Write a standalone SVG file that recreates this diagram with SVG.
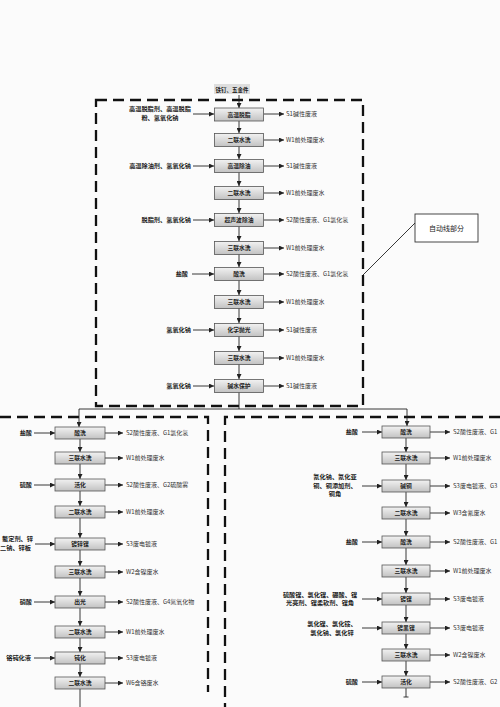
<svg xmlns="http://www.w3.org/2000/svg" width="500" height="707" viewBox="0 0 500 707">
<defs>
<linearGradient id="g" x1="0" y1="0" x2="0" y2="1">
<stop offset="0" stop-color="#f2f2f2"/><stop offset="1" stop-color="#c2c2c2"/>
</linearGradient>
<marker id="ah" viewBox="0 0 6 6" refX="6" refY="3" markerWidth="5" markerHeight="5" markerUnits="userSpaceOnUse" orient="auto">
<path d="M0,0 L6,3 L0,6 Z" fill="#222"/>
</marker>
<style>
.bx{fill:url(#g);stroke:#555;stroke-width:0.8}
.bl{font-family:"Noto Sans CJK SC",sans-serif;font-size:5.8px;font-weight:bold;fill:#222;text-anchor:middle}
.in{font-family:"Noto Sans CJK SC",sans-serif;font-size:6.2px;font-weight:bold;fill:#222}
.out{font-family:"Noto Sans CJK SC",sans-serif;font-size:6px;fill:#333}
.ln{stroke:#222;stroke-width:0.9;fill:none}
.ar{stroke:#222;stroke-width:0.9;fill:none;marker-end:url(#ah)}
.ds{stroke:#111;stroke-width:2.3;fill:none;stroke-dasharray:11 6}
</style>
</defs>
<rect width="500" height="707" fill="#fbfbfb"/>

<g id="boundaries">
<rect class="ds" x="96" y="100" width="267" height="306"/>
<path class="ds" d="M0,417 H208 V692"/>
<path class="ds" d="M500,417 H225 V707"/>
</g>

<g id="callout">
<rect x="415" y="214" width="63" height="28" fill="#fff" stroke="#333" stroke-width="0.9"/>
<text x="446.5" y="231" class="in" style="font-weight:normal;font-size:7px" text-anchor="middle">自动线部分</text>
</g>

<g id="connectors">
<path class="ar" d="M239,95 V108"/>
<path class="ar" d="M239,121 V133"/>
<path class="ar" d="M239,146 V159"/>
<path class="ar" d="M239,172 V186"/>
<path class="ar" d="M239,199 V213"/>
<path class="ar" d="M239,226 V241"/>
<path class="ar" d="M239,254 V267"/>
<path class="ar" d="M239,280 V295"/>
<path class="ar" d="M239,308 V323"/>
<path class="ar" d="M239,336 V351"/>
<path class="ar" d="M239,364 V379"/>
<path class="ln" d="M239,392 V409 M79,409 H407"/>
<path class="ar" d="M79,409 V427"/>
<path class="ar" d="M407,409 V426"/>
<path class="ln" d="M363,275 L415,223"/>
<!-- top inputs -->
<path class="ar" d="M193,114 H214"/>
<path class="ar" d="M193,166 H214"/>
<path class="ar" d="M193,220 H214"/>
<path class="ar" d="M192,274 H214"/>
<path class="ar" d="M193,330 H214"/>
<path class="ar" d="M193,386 H214"/>
<!-- top outputs -->
<path class="ar" d="M264,114 H284"/>
<path class="ar" d="M264,140 H284"/>
<path class="ar" d="M264,166 H284"/>
<path class="ar" d="M264,193 H284"/>
<path class="ar" d="M264,220 H284"/>
<path class="ar" d="M264,248 H284"/>
<path class="ar" d="M264,274 H284"/>
<path class="ar" d="M264,302 H284"/>
<path class="ar" d="M264,330 H284"/>
<path class="ar" d="M264,358 H284"/>
<path class="ar" d="M264,386 H284"/>
<!-- left column vertical -->
<path class="ar" d="M80,439 V452"/>
<path class="ar" d="M80,464 V479"/>
<path class="ar" d="M80,491 V506"/>
<path class="ar" d="M80,518 V538"/>
<path class="ar" d="M80,550 V566"/>
<path class="ar" d="M80,578 V596"/>
<path class="ar" d="M80,608 V626"/>
<path class="ar" d="M80,638 V652"/>
<path class="ar" d="M80,664 V677"/>
<path class="ln" d="M80,689 V707"/>
<!-- left inputs -->
<path class="ar" d="M34,433 H55"/>
<path class="ar" d="M34,485 H55"/>
<path class="ar" d="M35,544 H55"/>
<path class="ar" d="M34,602 H55"/>
<path class="ar" d="M34,658 H55"/>
<!-- left outputs -->
<path class="ar" d="M105,433 H123"/>
<path class="ar" d="M105,458 H123"/>
<path class="ar" d="M105,485 H123"/>
<path class="ar" d="M105,512 H123"/>
<path class="ar" d="M105,544 H123"/>
<path class="ar" d="M105,572 H123"/>
<path class="ar" d="M105,602 H123"/>
<path class="ar" d="M105,632 H123"/>
<path class="ar" d="M105,658 H123"/>
<path class="ar" d="M105,683 H123"/>
<!-- right column vertical -->
<path class="ar" d="M406,438 V452"/>
<path class="ar" d="M406,464 V480"/>
<path class="ar" d="M406,492 V507"/>
<path class="ar" d="M406,519 V536"/>
<path class="ar" d="M406,548 V565"/>
<path class="ar" d="M406,577 V593"/>
<path class="ar" d="M406,605 V622"/>
<path class="ar" d="M406,634 V649"/>
<path class="ar" d="M406,661 V676"/>
<path class="ln" d="M406,688 V697 M403.5,697 H408.5"/>
<!-- right inputs -->
<path class="ar" d="M362,432 H382"/>
<path class="ar" d="M362,486 H382"/>
<path class="ar" d="M362,542 H382"/>
<path class="ar" d="M362,599 H382"/>
<path class="ar" d="M362,628 H382"/>
<path class="ar" d="M362,682 H382"/>
<!-- right outputs -->
<path class="ar" d="M430,432 H450"/>
<path class="ar" d="M430,458 H450"/>
<path class="ar" d="M430,486 H450"/>
<path class="ar" d="M430,513 H450"/>
<path class="ar" d="M430,542 H450"/>
<path class="ar" d="M430,571 H450"/>
<path class="ar" d="M430,599 H450"/>
<path class="ar" d="M430,628 H450"/>
<path class="ar" d="M430,655 H450"/>
<path class="ar" d="M430,682 H450"/>
</g>

<g id="source">
<rect x="214" y="84" width="36" height="10" fill="#dedede"/>
<text x="232" y="91.5" class="bl" style="font-size:5.5px">铁钉、五金件</text>
</g>

<g id="top-nodes">
<g id="t1"><rect class="bx" x="214.5" y="108" width="49" height="13"/><text class="bl" x="239" y="116.5">高温脱脂</text></g>
<g id="t2"><rect class="bx" x="214.5" y="133.5" width="49" height="13"/><text class="bl" x="239" y="142">二联水洗</text></g>
<g id="t3"><rect class="bx" x="214.5" y="159.5" width="49" height="13"/><text class="bl" x="239" y="168">高温除油</text></g>
<g id="t4"><rect class="bx" x="214.5" y="186.5" width="49" height="13"/><text class="bl" x="239" y="195">二联水洗</text></g>
<g id="t5"><rect class="bx" x="214.5" y="213.5" width="49" height="13"/><text class="bl" x="239" y="222">超声波除油</text></g>
<g id="t6"><rect class="bx" x="214.5" y="241.5" width="49" height="13"/><text class="bl" x="239" y="250">三联水洗</text></g>
<g id="t7"><rect class="bx" x="214.5" y="267.5" width="49" height="13"/><text class="bl" x="239" y="276">酸洗</text></g>
<g id="t8"><rect class="bx" x="214.5" y="295.5" width="49" height="13"/><text class="bl" x="239" y="304">三联水洗</text></g>
<g id="t9"><rect class="bx" x="214.5" y="323.5" width="49" height="13"/><text class="bl" x="239" y="332">化学抛光</text></g>
<g id="t10"><rect class="bx" x="214.5" y="351.5" width="49" height="13"/><text class="bl" x="239" y="360">三联水洗</text></g>
<g id="t11"><rect class="bx" x="214.5" y="379.5" width="49" height="13"/><text class="bl" x="239" y="388">碱水保护</text></g>
</g>

<g id="left-nodes">
<g id="l1"><rect class="bx" x="55" y="427" width="50" height="12"/><text class="bl" x="80" y="435">酸洗</text></g>
<g id="l2"><rect class="bx" x="55" y="452" width="50" height="12"/><text class="bl" x="80" y="460">三联水洗</text></g>
<g id="l3"><rect class="bx" x="55" y="479" width="50" height="12"/><text class="bl" x="80" y="487">活化</text></g>
<g id="l4"><rect class="bx" x="55" y="506" width="50" height="12"/><text class="bl" x="80" y="514">二联水洗</text></g>
<g id="l5"><rect class="bx" x="55" y="538" width="50" height="12"/><text class="bl" x="80" y="546">镀锌镍</text></g>
<g id="l6"><rect class="bx" x="55" y="566" width="50" height="12"/><text class="bl" x="80" y="574">三联水洗</text></g>
<g id="l7"><rect class="bx" x="55" y="596" width="50" height="12"/><text class="bl" x="80" y="604">出光</text></g>
<g id="l8"><rect class="bx" x="55" y="626" width="50" height="12"/><text class="bl" x="80" y="634">二联水洗</text></g>
<g id="l9"><rect class="bx" x="55" y="652" width="50" height="12"/><text class="bl" x="80" y="660">钝化</text></g>
<g id="l10"><rect class="bx" x="55" y="677" width="50" height="12"/><text class="bl" x="80" y="685">二联水洗</text></g>
</g>

<g id="right-nodes">
<g id="r1"><rect class="bx" x="382" y="426" width="48" height="12"/><text class="bl" x="406" y="434">酸洗</text></g>
<g id="r2"><rect class="bx" x="382" y="452" width="48" height="12"/><text class="bl" x="406" y="460">三联水洗</text></g>
<g id="r3"><rect class="bx" x="382" y="480" width="48" height="12"/><text class="bl" x="406" y="488">碱铜</text></g>
<g id="r4"><rect class="bx" x="382" y="507" width="48" height="12"/><text class="bl" x="406" y="515">二联水洗</text></g>
<g id="r5"><rect class="bx" x="382" y="536" width="48" height="12"/><text class="bl" x="406" y="544">酸洗</text></g>
<g id="r6"><rect class="bx" x="382" y="565" width="48" height="12"/><text class="bl" x="406" y="573">三联水洗</text></g>
<g id="r7"><rect class="bx" x="382" y="593" width="48" height="12"/><text class="bl" x="406" y="601">镀镍</text></g>
<g id="r8"><rect class="bx" x="382" y="622" width="48" height="12"/><text class="bl" x="406" y="630">镀黑镍</text></g>
<g id="r9"><rect class="bx" x="382" y="649" width="48" height="12"/><text class="bl" x="406" y="657">三联水洗</text></g>
<g id="r10"><rect class="bx" x="382" y="676" width="48" height="12"/><text class="bl" x="406" y="684">活化</text></g>
</g>

<g id="inputs">
<text class="in" x="160" y="111" text-anchor="middle">高温脱脂剂、高温脱脂</text>
<text class="in" x="160" y="120" text-anchor="middle">粉、氢氧化钠</text>
<text class="in" x="191" y="168" text-anchor="end">高温除油剂、氢氧化钠</text>
<text class="in" x="191" y="222" text-anchor="end">脱脂剂、氢氧化钠</text>
<text class="in" x="188" y="276" text-anchor="end">盐酸</text>
<text class="in" x="191" y="332" text-anchor="end">氢氧化钠</text>
<text class="in" x="191" y="388" text-anchor="end">氢氧化钠</text>
<text class="in" x="32" y="435" text-anchor="end">盐酸</text>
<text class="in" x="32" y="487" text-anchor="end">硫酸</text>
<text class="in" x="33" y="541" text-anchor="end">螯定剂、锌</text>
<text class="in" x="31" y="550" text-anchor="end">二钠、锌板</text>
<text class="in" x="32" y="604" text-anchor="end">硝酸</text>
<text class="in" x="31" y="660" text-anchor="end">铬钝化液</text>
<text class="in" x="358" y="434" text-anchor="end">盐酸</text>
<text class="in" x="335" y="479" text-anchor="middle">氰化钠、氰化亚</text>
<text class="in" x="335" y="487.5" text-anchor="middle">铜、铜添加剂、</text>
<text class="in" x="335" y="496" text-anchor="middle">铜角</text>
<text class="in" x="358" y="544" text-anchor="end">盐酸</text>
<text class="in" x="320" y="597" text-anchor="middle">硫酸镍、氯化镍、硼酸、镍</text>
<text class="in" x="320" y="605" text-anchor="middle">光亮剂、镍柔软剂、镍角</text>
<text class="in" x="332" y="626" text-anchor="middle">氯化镍、氯化铵、</text>
<text class="in" x="332" y="634.5" text-anchor="middle">氯化钠、氯化锌</text>
<text class="in" x="358" y="684" text-anchor="end">硫酸</text>
</g>

<g id="outputs">
<text class="out" x="286" y="116">S1碱性废液</text>
<text class="out" x="286" y="142">W1前处理废水</text>
<text class="out" x="286" y="168">S1碱性废液</text>
<text class="out" x="286" y="195">W1前处理废水</text>
<text class="out" x="286" y="222">S2酸性废液、G1氯化氢</text>
<text class="out" x="286" y="250">W1前处理废水</text>
<text class="out" x="286" y="276">S2酸性废液、G1氯化氢</text>
<text class="out" x="286" y="304">W1前处理废水</text>
<text class="out" x="286" y="332">S1碱性废液</text>
<text class="out" x="286" y="360">W1前处理废水</text>
<text class="out" x="286" y="388">S1碱性废液</text>
<text class="out" x="126" y="435">S2酸性废液、G1氯化氢</text>
<text class="out" x="126" y="460">W1前处理废水</text>
<text class="out" x="126" y="487">S2酸性废液、G2硫酸雾</text>
<text class="out" x="126" y="514">W1前处理废水</text>
<text class="out" x="126" y="546">S3废电镀液</text>
<text class="out" x="126" y="574">W2含镍废水</text>
<text class="out" x="126" y="604">S2酸性废液、G4氮氧化物</text>
<text class="out" x="126" y="634">W1前处理废水</text>
<text class="out" x="126" y="660">S3废电镀液</text>
<text class="out" x="126" y="685">W6含铬废水</text>
<text class="out" x="453" y="434">S2酸性废液、G1</text>
<text class="out" x="453" y="460">W1前处理废水</text>
<text class="out" x="453" y="488">S3废电镀液、G3</text>
<text class="out" x="453" y="515">W3含氰废水</text>
<text class="out" x="453" y="544">S2酸性废液、G1</text>
<text class="out" x="453" y="573">W1前处理废水</text>
<text class="out" x="453" y="601">S3废电镀液</text>
<text class="out" x="453" y="630">S3废电镀液</text>
<text class="out" x="453" y="657">W2含镍废水</text>
<text class="out" x="453" y="684">S2酸性废液、G2</text>
</g>
</svg>
